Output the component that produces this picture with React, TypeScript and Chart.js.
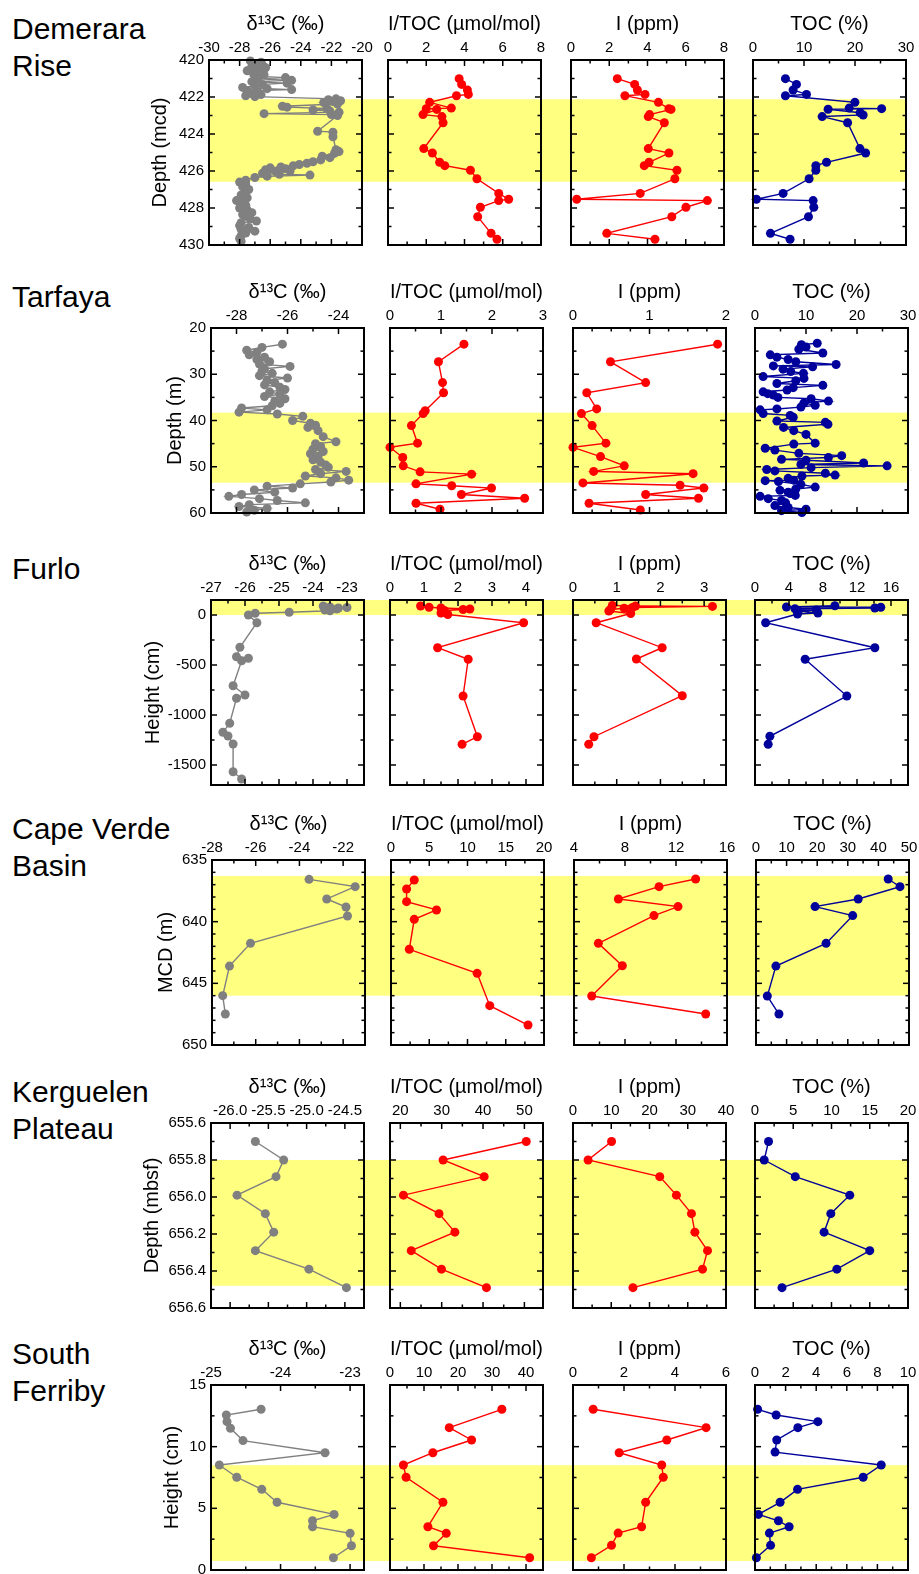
import React, { useEffect, useRef } from "react";
import { Chart, registerables } from "chart.js";

Chart.register(...registerables);

const FONT_FAMILY = "'Liberation Sans', Arial, Helvetica, sans-serif";
Chart.defaults.font.family = FONT_FAMILY;
Chart.defaults.color = "#000000";

// ---------------- titles ----------------
const siteNames = ["Demerara\nRise", "Tarfaya", "Furlo", "Cape Verde\nBasin", "Kerguelen\nPlateau", "South\nFerriby"];
const depthTitles = ["Depth (mcd)", "Depth (m)", "Height (cm)", "MCD (m)", "Depth (mbsf)", "Height (cm)"];
const variableTitles = ["δ¹³C (‰)", "I/TOC (µmol/mol)", "I (ppm)", "TOC (%)"];

// ---------------- depth axes ----------------
const depthRanges: [number, number][] = [[420, 430], [20, 60], [-1700, 150], [635, 650], [655.6, 656.6], [0, 15]];
const depthReversed = [true, true, false, true, true, false];
const depthTicks = [
  [420, 422, 424, 426, 428, 430],
  [20, 30, 40, 50, 60],
  [-1500, -1000, -500, 0],
  [635, 640, 645, 650],
  [655.6, 655.8, 656.0, 656.2, 656.4, 656.6],
  [0, 5, 10, 15],
];
const depthMinorSteps = [1, 5, 250, 1, 0.1, 2.5];
const depthDecimals = [0, 0, 0, 0, 1, 0];
const bandIntervals: [number, number][] = [[422.12, 426.58], [38.3, 53.45], [0, 150], [636.3, 646.0], [655.8, 656.48], [0.73, 8.5]];

// ---------------- value axes ----------------
const d13cRanges: [number, number][] = [[-30, -20], [-29, -23], [-27, -22.5], [-28, -21], [-26.25, -24.25], [-25, -22.8]];
const d13cTicks = [[-30, -28, -26, -24, -22, -20], [-28, -26, -24], [-27, -26, -25, -24, -23], [-28, -26, -24, -22], [-26, -25.5, -25, -24.5], [-25, -24, -23]];
const d13cMinor = [1, 1, 0.5, 1, 0.25, 0.5];
const d13cDecimals = [0, 0, 0, 0, 1, 0];
const itocRanges: [number, number][] = [[0, 8], [0, 3], [0, 4.5], [0, 20], [17.5, 54.5], [0, 45]];
const itocTicks = [[0, 2, 4, 6, 8], [0, 1, 2, 3], [0, 1, 2, 3, 4], [0, 5, 10, 15, 20], [20, 30, 40, 50], [0, 10, 20, 30, 40]];
const itocMinor = [1, 0.5, 0.5, 2.5, 5, 5];
const iodineRanges: [number, number][] = [[0, 8], [0, 2], [0, 3.5], [4, 16], [0, 40], [0, 6]];
const iodineTicks = [[0, 2, 4, 6, 8], [0, 1, 2], [0, 1, 2, 3], [4, 8, 12, 16], [0, 10, 20, 30, 40], [0, 2, 4, 6]];
const iodineMinor = [1, 0.25, 0.5, 2, 5, 1];
const tocRanges: [number, number][] = [[0, 30], [0, 30], [0, 18], [0, 50], [0, 20], [0, 10]];
const tocTicks = [[0, 10, 20, 30], [0, 10, 20, 30], [0, 4, 8, 12, 16], [0, 10, 20, 30, 40, 50], [0, 5, 10, 15, 20], [0, 2, 4, 6, 8, 10]];
const tocMinor = [5, 5, 2, 5, 2.5, 1];

// ---------------- series: [depth, value] ----------------
const demeraraD13C: [number, number][] = [
  [420.05, -27.3], [420.12, -26.6], [420.2, -27.0], [420.28, -26.5], [420.35, -27.2], [420.42, -26.3], [420.5, -26.9],
  [420.58, -27.5], [420.65, -26.6], [420.72, -27.1], [420.8, -26.4], [420.88, -27.0], [420.95, -25.0], [421.02, -26.8],
  [421.1, -24.6], [421.17, -27.2], [421.25, -24.9], [421.32, -26.5], [421.4, -27.0], [421.48, -27.8], [421.55, -26.2],
  [421.6, -24.6], [421.66, -27.5], [421.72, -26.8], [421.8, -27.3], [421.87, -26.6], [421.93, -27.6], [421.98, -27.0],
  [422.1, -21.7], [422.15, -22.2], [422.2, -21.4], [422.25, -21.9], [422.3, -22.5], [422.38, -21.6], [422.5, -25.2],
  [422.55, -24.9], [422.62, -22.3], [422.7, -23.2], [422.75, -22.1], [422.82, -21.5], [422.9, -26.4], [422.95, -22.0],
  [423.0, -21.6], [423.85, -22.9], [423.9, -21.9], [424.15, -21.9], [424.85, -21.7], [424.95, -21.5], [425.05, -21.8],
  [425.2, -22.6], [425.28, -22.1], [425.4, -22.7], [425.5, -23.2], [425.58, -23.6], [425.65, -24.1], [425.72, -24.5],
  [425.78, -25.3], [425.83, -26.0], [425.88, -25.0], [425.93, -26.3], [426.0, -24.7], [426.05, -25.6], [426.12, -26.5],
  [426.18, -25.4], [426.22, -23.4], [426.28, -26.2], [426.35, -27.0], [426.5, -27.6], [426.6, -28.0], [426.7, -27.6],
  [426.85, -27.8], [427.0, -27.4], [427.15, -27.6], [427.3, -27.9], [427.45, -27.5], [427.6, -28.2], [427.72, -27.9],
  [427.85, -27.6], [428.0, -28.0], [428.1, -27.5], [428.25, -27.2], [428.35, -27.8], [428.45, -27.6], [428.6, -27.3],
  [428.7, -26.9], [428.8, -27.9], [428.95, -28.0], [429.05, -27.4], [429.15, -27.9], [429.25, -27.0], [429.35, -27.6],
  [429.5, -27.9], [429.65, -28.0], [429.8, -27.9],
];
const demeraraITOC: [number, number][] = [
  [421.01, 3.72], [421.32, 3.85], [421.62, 4.15], [421.86, 4.2], [421.93, 3.58], [422.29, 2.18], [422.6, 3.31],
  [422.63, 2.0], [422.67, 2.55], [422.95, 1.83], [423.06, 2.82], [423.39, 2.88], [424.79, 1.87], [425.03, 2.32],
  [425.53, 2.7], [425.71, 2.97], [425.96, 4.31], [426.42, 4.65], [427.21, 5.79], [427.53, 6.31], [427.6, 5.79],
  [427.96, 4.83], [428.47, 4.69], [429.37, 5.39], [429.69, 5.7],
];
const demeraraI: [number, number][] = [
  [421.01, 2.42], [421.32, 3.33], [421.62, 3.47], [421.86, 3.87], [421.93, 2.82], [422.29, 4.57], [422.63, 5.12],
  [422.67, 5.23], [422.95, 4.11], [423.06, 4.04], [423.39, 4.88], [424.79, 4.04], [425.03, 5.12], [425.53, 4.08],
  [425.71, 3.83], [425.96, 5.54], [426.42, 5.43], [427.21, 3.62], [427.53, 0.3], [427.6, 7.13], [427.96, 6.01],
  [428.47, 5.27], [429.37, 1.87], [429.69, 4.39],
];
const demeraraTOC: [number, number][] = [
  [421.01, 6.36], [421.32, 8.52], [421.62, 7.86], [421.86, 10.49], [421.93, 6.36], [422.29, 19.98], [422.6, 18.86],
  [422.63, 25.22], [422.66, 14.73], [422.85, 21.0], [422.97, 21.6], [423.06, 13.56], [423.39, 18.55], [424.79, 20.96],
  [425.03, 22.08], [425.53, 14.42], [425.71, 12.32], [425.96, 12.32], [426.42, 11.0], [427.21, 5.9], [427.53, 0.66],
  [427.6, 11.79], [427.96, 11.92], [428.47, 10.88], [429.37, 3.42], [429.69, 7.27],
];

const tarfayaD13C: [number, number][] = [
  [23.5, -26.2], [24.2, -27.0], [24.8, -27.6], [25.3, -27.2], [25.8, -27.5], [26.3, -26.9], [26.8, -27.2], [27.3, -26.7],
  [27.8, -27.1], [28.3, -25.9], [28.8, -26.9], [29.3, -27.0], [29.8, -26.6], [30.3, -27.1], [30.8, -26.0], [31.3, -26.8],
  [31.8, -26.5], [32.3, -26.9], [32.8, -26.3], [33.3, -26.1], [33.8, -26.7], [34.3, -26.3], [34.8, -26.9], [35.3, -26.1],
  [35.8, -26.5], [36.3, -26.3], [36.8, -26.6], [37.3, -27.8], [37.7, -26.8], [38.2, -27.9], [38.6, -26.4], [39.1, -25.4],
  [40.0, -25.8], [40.6, -25.1], [41.0, -24.9], [41.5, -25.2], [42.2, -24.8], [43.5, -24.6], [44.6, -24.1], [45.0, -24.9],
  [45.6, -24.7], [46.2, -25.0], [46.7, -24.6], [47.2, -25.1], [47.8, -24.8], [48.5, -25.0], [49.0, -24.7], [49.6, -24.5],
  [50.1, -24.4], [50.6, -24.9], [51.0, -23.7], [51.5, -24.7], [52.0, -25.3], [52.4, -24.1], [52.9, -23.6], [53.3, -24.3],
  [53.7, -25.5], [54.2, -26.8], [54.6, -25.8], [55.0, -27.3], [55.5, -26.5], [56.0, -27.8], [56.4, -28.3], [56.9, -27.1],
  [57.3, -26.4], [57.8, -25.3], [58.2, -27.5], [58.6, -27.9], [59.0, -26.8], [59.4, -27.3], [59.8, -27.6],
];
const tarfayaITOC: [number, number][] = [
  [23.5, 1.45], [27.3, 0.95], [31.8, 1.03], [34.0, 1.05], [37.9, 0.69], [38.5, 0.65], [41.1, 0.42], [44.9, 0.54],
  [45.8, 0.0], [48.0, 0.25], [49.8, 0.26], [51.1, 0.59], [51.6, 1.6], [53.7, 0.51], [54.1, 1.21], [54.6, 1.99],
  [56.0, 1.4], [56.8, 2.64], [57.9, 0.51], [59.2, 0.98],
];
const tarfayaI: [number, number][] = [
  [23.5, 1.89], [27.3, 0.49], [31.8, 0.95], [34.0, 0.18], [37.5, 0.31], [38.5, 0.11], [41.1, 0.25], [44.9, 0.43],
  [45.8, 0.0], [47.8, 0.36], [49.8, 0.67], [51.0, 0.27], [51.5, 1.57], [53.5, 0.13], [54.0, 1.4], [54.6, 1.71],
  [56.0, 0.95], [56.8, 1.64], [57.9, 0.21], [59.35, 0.88],
];
const tarfayaTOC: [number, number][] = [
  [23.3, 12.2], [23.6, 9.1], [24.1, 10.0], [24.6, 8.6], [25.4, 13.3], [25.8, 3.0], [26.3, 4.3], [26.8, 6.5], [27.3, 8.0],
  [27.9, 15.9], [28.2, 3.6], [28.4, 11.3], [28.9, 5.5], [29.4, 7.0], [29.8, 9.5], [30.5, 1.6], [30.9, 9.6], [31.4, 8.0],
  [32.0, 4.3], [32.4, 13.3], [32.9, 7.5], [33.4, 6.3], [33.8, 1.6], [34.2, 2.5], [34.5, 3.6], [35.0, 4.5], [35.3, 11.0],
  [35.8, 14.4], [36.2, 9.6], [36.7, 11.8], [37.1, 9.0], [37.5, 4.3], [37.7, 1.0], [38.5, 1.6], [38.9, 6.9], [39.3, 7.5],
  [40.1, 4.3], [40.4, 13.8], [40.8, 14.3], [41.5, 5.6], [42.2, 7.6], [43.0, 10.0], [44.9, 11.8], [45.1, 7.6], [46.0, 2.0],
  [46.4, 3.9], [47.1, 8.6], [47.6, 17.0], [48.0, 14.4], [48.4, 5.2], [48.6, 10.0], [49.2, 21.3], [49.5, 9.0], [49.8, 25.9],
  [50.2, 11.0], [50.6, 2.3], [50.9, 3.9], [51.4, 13.8], [51.8, 15.7], [52.0, 9.2], [52.5, 6.5], [52.9, 7.6], [53.0, 2.0],
  [53.2, 4.6], [53.8, 9.0], [54.4, 11.8], [54.8, 8.0], [55.1, 4.9], [55.5, 6.5], [55.8, 6.9], [56.2, 7.9], [56.4, 1.0],
  [56.9, 2.6], [57.3, 5.2], [57.8, 6.0], [58.4, 3.9], [58.8, 6.5], [59.2, 10.0], [59.5, 5.2], [59.9, 9.2],
];

const furloD13C: [number, number][] = [
  [90, -23.7], [80, -23.5], [75, -23.0], [70, -23.25], [60, -23.3], [50, -23.65], [43, -23.5], [27, -24.7], [17, -25.7],
  [0, -25.9], [-77, -25.65], [-323, -26.15], [-417, -26.25], [-433, -25.9], [-457, -26.1], [-707, -26.35], [-800, -26.0],
  [-833, -26.25], [-1083, -26.45], [-1173, -26.65], [-1210, -26.5], [-1290, -26.35], [-1567, -26.35], [-1640, -26.1],
];
const furloITOC: [number, number][] = [
  [90, 0.9], [77, 1.15], [70, 1.5], [60, 2.35], [55, 2.15], [45, 1.6], [20, 1.5], [5, 1.7], [-77, 3.93], [-327, 1.4],
  [-443, 2.3], [-810, 2.15], [-1217, 2.57], [-1293, 2.12],
];
const furloI: [number, number][] = [
  [95, 0.9], [90, 1.43], [86, 3.19], [75, 1.36], [67, 1.17], [55, 0.86], [40, 0.82], [15, 1.32], [-77, 0.53], [-327, 2.04],
  [-440, 1.45], [-807, 2.5], [-1217, 0.48], [-1293, 0.36],
];
const furloTOC: [number, number][] = [
  [92, 9.4], [80, 3.7], [77, 14.8], [70, 14.1], [62, 4.7], [50, 7.2], [40, 5.1], [20, 7.4], [10, 5.0], [-77, 1.25],
  [-327, 14.1], [-443, 5.9], [-810, 10.8], [-1213, 1.75], [-1293, 1.55],
];

const capeVerdeD13C: [number, number][] = [
  [636.57, -23.56], [637.16, -21.45], [638.16, -22.75], [638.81, -21.87], [639.54, -21.8], [641.76, -26.24],
  [643.6, -27.2], [646.0, -27.51], [647.49, -27.39],
];
const capeVerdeITOC: [number, number][] = [
  [636.62, 3.04], [637.35, 2.04], [638.38, 2.04], [639.05, 5.95], [639.81, 3.04], [642.24, 2.39], [644.19, 11.26],
  [646.81, 12.91], [648.38, 17.91],
];
const capeVerdeI: [number, number][] = [
  [636.54, 13.54], [637.16, 10.67], [638.16, 7.48], [638.78, 12.16], [639.51, 10.27], [641.76, 5.91], [643.57, 7.79],
  [646.03, 5.39], [647.49, 14.33],
];
const capeVerdeTOC: [number, number][] = [
  [636.54, 43.2], [637.16, 47.05], [638.16, 33.4], [638.78, 19.3], [639.51, 31.6], [641.76, 22.9], [643.6, 6.5],
  [646.03, 3.7], [647.49, 7.5],
];

const kerguelenD13C: [number, number][] = [
  [655.7, -25.67], [655.8, -25.3], [655.89, -25.4], [655.99, -25.91], [656.09, -25.54], [656.19, -25.43],
  [656.29, -25.67], [656.39, -24.97], [656.49, -24.48],
];
const kerguelenITOC: [number, number][] = [
  [655.7, 50.45], [655.8, 30.34], [655.89, 40.27], [655.99, 20.75], [656.09, 29.36], [656.19, 33.19], [656.29, 22.63],
  [656.39, 29.95], [656.49, 40.83],
];
const kerguelenI: [number, number][] = [
  [655.7, 10.08], [655.8, 3.94], [655.89, 22.68], [655.99, 27.03], [656.09, 30.97], [656.19, 31.86], [656.29, 35.17],
  [656.39, 33.86], [656.49, 15.67],
];
const kerguelenTOC: [number, number][] = [
  [655.7, 1.77], [655.8, 1.2], [655.89, 5.26], [655.99, 12.39], [656.09, 9.91], [656.19, 9.03], [656.29, 15.0],
  [656.39, 10.7], [656.49, 3.53],
];

const southFerribyD13C: [number, number][] = [
  [13.03, -24.28], [12.57, -24.78], [12.03, -24.77], [11.49, -24.72], [10.49, -24.54], [9.51, -23.36], [8.51, -24.88],
  [7.52, -24.63], [6.54, -24.27], [5.49, -24.05], [4.51, -23.23], [3.99, -23.54], [3.51, -23.54], [2.97, -23.0],
  [1.97, -22.98], [0.99, -23.24],
];
const southFerribyITOC: [number, number][] = [
  [13.03, 32.9], [11.54, 17.43], [10.54, 24.0], [9.51, 12.61], [8.51, 3.94], [7.52, 4.73], [5.49, 15.57], [3.51, 11.14],
  [2.97, 16.55], [1.97, 12.8], [0.99, 41.07],
];
const southFerribyI: [number, number][] = [
  [13.03, 0.79], [11.54, 5.22], [10.54, 3.68], [9.51, 1.81], [8.51, 3.48], [7.52, 3.54], [5.49, 2.85], [3.51, 2.69],
  [2.99, 1.77], [2.0, 1.51], [0.99, 0.72],
];
const southFerribyTOC: [number, number][] = [
  [13.03, 0.17], [12.57, 1.38], [12.03, 4.11], [11.54, 2.8], [10.54, 1.42], [9.56, 1.31], [8.51, 8.25], [7.52, 7.07],
  [6.54, 2.78], [5.49, 1.64], [4.51, 0.22], [3.99, 1.53], [3.51, 2.23], [2.99, 0.94], [2.0, 1.02], [0.99, 0.09],
];

const rowSeries = [
  [demeraraD13C, demeraraITOC, demeraraI, demeraraTOC],
  [tarfayaD13C, tarfayaITOC, tarfayaI, tarfayaTOC],
  [furloD13C, furloITOC, furloI, furloTOC],
  [capeVerdeD13C, capeVerdeITOC, capeVerdeI, capeVerdeTOC],
  [kerguelenD13C, kerguelenITOC, kerguelenI, kerguelenTOC],
  [southFerribyD13C, southFerribyITOC, southFerribyI, southFerribyTOC],
];

// ---------------- styles & layout ----------------
const SERIES_COLORS = ["#808080", "#ff0000", "#ff0000", "#00009a"];
const BAND_COLOR = "#ffff80";
const BOX_LEFTS = [211, 390, 573, 755];
const BOX_WIDTH = 153;
const BOX_HEIGHT = 185;
const CANVAS_EDGES = [120, 377, 558, 740, 919];
const ROW_TOPS = [60, 328, 600, 860, 1123, 1385];
const ROW_SHIFTS = [-2, 0, 0, 1, 0, 0];
const Y_TITLE_X = [160, 175, 153, 166, 152, 172];
const AXIS_BAND = 50;
const PAD_TOP = 6;
const PAD_BOTTOM = 10;

const variableAxes = [
  { ranges: d13cRanges, ticks: d13cTicks, minor: d13cMinor },
  { ranges: itocRanges, ticks: itocTicks, minor: itocMinor },
  { ranges: iodineRanges, ticks: iodineTicks, minor: iodineMinor },
  { ranges: tocRanges, ticks: tocTicks, minor: tocMinor },
];

function minorValues(min: number, max: number, step: number, majors: number[]) {
  const out: number[] = [];
  const lo = Math.min(min, max);
  const hi = Math.max(min, max);
  const start = Math.ceil(lo / step - 1e-9);
  for (let i = start; i * step <= hi + 1e-9; i++) {
    const v = +(i * step).toFixed(6);
    if (!majors.some((m) => Math.abs(m - v) < 1e-6)) out.push(v);
  }
  return out;
}

function Panel({ r, k }: { r: number; k: number }) {
  const ref = useRef<HTMLCanvasElement | null>(null);
  const shift = ROW_SHIFTS[r];
  const edges = CANVAS_EDGES.map((e, i) => (i === 0 || i === 4 ? e : e + shift));
  const boxL = BOX_LEFTS[k] + shift;
  const left = edges[k];
  const right = edges[k + 1];
  const width = right - left;
  const height = PAD_TOP + AXIS_BAND + BOX_HEIGHT + PAD_BOTTOM;
  const top = ROW_TOPS[r] - PAD_TOP - AXIS_BAND;

  useEffect(() => {
    if (!ref.current) return;
    const axis = variableAxes[k];
    const [xMin, xMax] = axis.ranges[r];
    const xMajor = axis.ticks[r];
    const xMinorVals = minorValues(xMin, xMax, axis.minor[r], xMajor);
    const [yMin, yMax] = depthRanges[r];
    const yMajor = depthTicks[r];
    const yMinorVals = minorValues(yMin, yMax, depthMinorSteps[r], yMajor);
    const xDec = k === 0 ? d13cDecimals[r] : 0;
    const yDec = depthDecimals[r];
    const color = SERIES_COLORS[k];
    const band = bandIntervals[r];
    const series = rowSeries[r][k];
    const isFirst = k === 0;

    const bandFrame = {
      id: "bandFrame",
      beforeDatasetsDraw(chart: any) {
        const { ctx, chartArea: a } = chart;
        const ys = chart.scales.y;
        const p0 = ys.getPixelForValue(band[0]);
        const p1 = ys.getPixelForValue(band[1]);
        const t = Math.max(Math.min(p0, p1), a.top);
        const b = Math.min(Math.max(p0, p1), a.bottom);
        const x0 = k === 0 ? a.left : 0;
        const x1 = k === 3 ? a.right : chart.width;
        ctx.save();
        ctx.fillStyle = BAND_COLOR;
        ctx.fillRect(x0, t, x1 - x0, b - t);
        ctx.restore();
      },
      afterDraw(chart: any) {
        const { ctx, chartArea: a } = chart;
        const xs = chart.scales.x;
        const ys = chart.scales.y;
        ctx.save();
        ctx.strokeStyle = "#000";
        ctx.lineWidth = 1.5;
        const seg = (x1: number, y1: number, x2: number, y2: number) => {
          ctx.beginPath();
          ctx.moveTo(x1, y1);
          ctx.lineTo(x2, y2);
          ctx.stroke();
        };
        const xTick = (v: number, len: number) => {
          const p = xs.getPixelForValue(v);
          if (p < a.left + 1 || p > a.right - 1) return;
          seg(p, a.top, p, a.top + len);
          seg(p, a.bottom, p, a.bottom - len);
        };
        const yTick = (v: number, len: number) => {
          const p = ys.getPixelForValue(v);
          if (p < a.top + 1 || p > a.bottom - 1) return;
          seg(a.left, p, a.left + len, p);
          seg(a.right, p, a.right - len, p);
        };
        xMajor.forEach((v) => xTick(v, 6));
        xMinorVals.forEach((v) => xTick(v, 3.5));
        yMajor.forEach((v) => yTick(v, 6));
        yMinorVals.forEach((v) => yTick(v, 3.5));
        ctx.lineWidth = 2;
        ctx.strokeRect(a.left, a.top, a.right - a.left, a.bottom - a.top);
        ctx.restore();
      },
    };

    const chart = new Chart(ref.current, {
      type: "scatter",
      data: {
        datasets: [
          {
            data: series.map(([d, v]) => ({ x: v, y: d })),
            showLine: true,
            borderColor: color,
            backgroundColor: color,
            borderWidth: 1.4,
            pointRadius: 4.5,
            pointHoverRadius: 4.5,
            pointBackgroundColor: color,
            pointBorderWidth: 0,
            tension: 0,
            clip: 8,
          } as any,
        ],
      },
      options: {
        responsive: false,
        maintainAspectRatio: false,
        animation: false,
        events: [],
        layout: {
          padding: {
            left: isFirst ? 0 : boxL - left,
            right: right - (boxL + BOX_WIDTH),
            top: PAD_TOP,
            bottom: PAD_BOTTOM,
          },
        },
        plugins: { legend: { display: false }, tooltip: { enabled: false } },
        scales: {
          x: {
            type: "linear",
            position: "top",
            min: xMin,
            max: xMax,
            bounds: "data",
            grid: { display: false, drawTicks: false },
            border: { display: false },
            ticks: {
              autoSkip: false,
              maxRotation: 0,
              minRotation: 0,
              padding: 3,
              color: "#000",
              font: { size: 15, family: FONT_FAMILY },
              callback: (v: any) => Number(v).toFixed(xDec),
            },
            afterBuildTicks: (ax: any) => {
              ax.ticks = xMajor.map((v) => ({ value: v }));
            },
            afterFit: (ax: any) => {
              ax.height = AXIS_BAND;
              ax.paddingLeft = 0;
              ax.paddingRight = 0;
            },
            title: {
              display: true,
              text: variableTitles[k],
              color: "#000",
              font: { size: 20, family: FONT_FAMILY },
              padding: { top: 2, bottom: 0 },
            },
          },
          y: {
            type: "linear",
            position: "left",
            display: isFirst,
            min: yMin,
            max: yMax,
            reverse: depthReversed[r],
            bounds: "data",
            grid: { display: false, drawTicks: false },
            border: { display: false },
            ticks: {
              autoSkip: false,
              padding: 5,
              color: "#000",
              font: { size: 15, family: FONT_FAMILY },
              callback: (v: any) => Number(v).toFixed(yDec),
            },
            afterBuildTicks: (ax: any) => {
              ax.ticks = yMajor.map((v) => ({ value: v }));
            },
            afterFit: (ax: any) => {
              ax.width = isFirst ? boxL - edges[0] : 0;
              ax.paddingTop = 0;
              ax.paddingBottom = 0;
            },
            title: {
              display: isFirst,
              text: depthTitles[r],
              color: "#000",
              font: { size: 20, family: FONT_FAMILY },
              padding: { top: Y_TITLE_X[r] - edges[0] - 12, bottom: 0 },
            },
          },
        },
      } as any,
      plugins: [bandFrame],
    });
    return () => chart.destroy();
  }, [r, k]);

  return (
    <canvas
      ref={ref}
      width={width}
      height={height}
      style={{ position: "absolute", left, top, width, height, display: "block" }}
    />
  );
}

export default function App() {
  return (
    <div
      style={{
        position: "absolute",
        left: 0,
        top: 0,
        width: 919,
        height: 1574,
        overflow: "hidden",
        background: "#ffffff",
      }}
    >
      {siteNames.map((name, r) => (
        <div
          key={"n" + r}
          style={{
            position: "absolute",
            left: 12,
            top: ROW_TOPS[r] - 50,
            fontFamily: FONT_FAMILY,
            fontSize: 30,
            lineHeight: "37px",
            whiteSpace: "pre-line",
            color: "#000",
          }}
        >
          {name}
        </div>
      ))}
      {rowSeries.map((row, r) => row.map((_, k) => <Panel key={r + "-" + k} r={r} k={k} />))}
    </div>
  );
}
